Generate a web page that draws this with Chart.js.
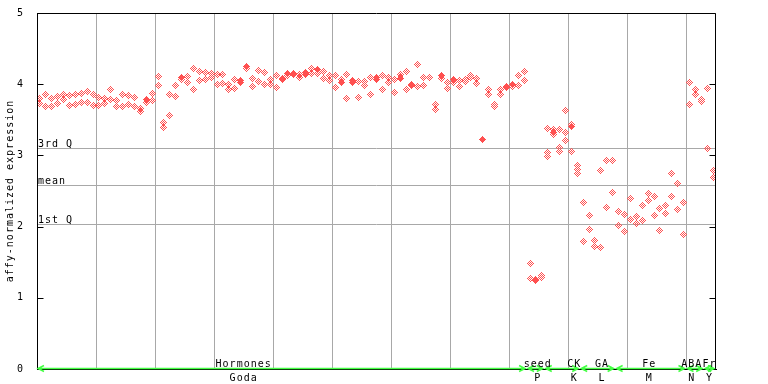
<!DOCTYPE html>
<html><head><meta charset="utf-8">
<script src="https://cdn.jsdelivr.net/npm/chart.js@4/dist/chart.umd.min.js"></script>
<style>html,body{margin:0;padding:0;background:#fff}#wrap{width:768px;height:384px}</style>
</head><body><div id="wrap"><canvas id="c" width="768" height="384"></canvas></div>
<script>
// ---- data ----
const rep1 = [3.80,3.86,3.80,3.83,3.86,3.84,3.86,3.87,3.90,3.86,
3.81,3.80,3.93,3.77,3.86,3.84,3.81,3.66,3.78,3.87,
4.11,3.46,3.86,3.98,4.10,4.11,4.22,4.18,4.17,4.15,
4.13,4.14,4.00,4.07,4.05,4.25,4.08,4.19,4.16,4.07,
4.12,4.08,4.15,4.15,4.13,4.16,4.22,4.20,4.18,4.12,
4.12,4.07,4.14,4.05,4.04,4.04,4.10,4.09,4.12,4.10,
4.07,4.13,4.18,4.00,4.27,4.10,4.10,3.72,4.12,4.03,
4.06,4.05,4.07,4.12,4.08,3.23,3.93,3.72,3.93,3.97,
3.99,4.12,4.18,1.48,1.26,1.31,3.38,3.37,3.37,3.63,
3.44,2.86,2.34,2.16,1.81,2.79,2.93,2.93,2.21,2.17,
2.40,2.14,2.30,2.47,2.42,2.26,2.30,2.75,2.61,2.34,
4.03,3.93,3.79,3.94,2.79];
const rep2 = [3.73,3.69,3.69,3.73,3.79,3.70,3.72,3.75,3.75,3.70,
3.70,3.73,3.79,3.68,3.68,3.72,3.69,3.61,3.75,3.77,
3.98,3.39,3.56,3.83,4.06,4.02,3.93,4.05,4.07,4.10,
4.00,4.01,3.92,3.94,4.03,4.22,3.97,4.04,4.00,3.99,
3.96,4.06,4.12,4.13,4.10,4.14,4.15,4.15,4.08,4.05,
3.96,4.03,3.80,4.03,3.82,3.98,3.86,4.07,3.93,4.02,
3.88,4.08,3.93,3.98,3.97,3.98,4.10,3.65,4.08,3.94,
4.03,3.97,4.04,4.10,4.01,3.22,3.86,3.69,3.86,3.95,
3.97,3.98,4.05,1.27,1.24,1.29,3.04,3.32,3.11,3.32,
3.41,2.80,1.79,1.96,1.72,1.71,2.27,2.48,2.02,1.93,
2.10,2.04,2.09,2.36,2.16,1.95,2.18,2.42,2.24,1.89,
3.72,3.86,3.76,3.09,2.69];
const rep3Index = [86,87,88,89,90,91];
const rep3 = [2.98,3.29,3.06,3.21,3.06,2.75];
const solidIndex = [18,24,34,35,42,45,47,51,53,57,61,63,68,70,75,80,87,90];
const solidValues = [3.77,4.09,4.04,4.25,4.15,4.15,4.20,4.03,4.04,4.08,4.10,3.99,4.12,4.05,3.23,3.99,3.32,3.41];

const quartileNames = ['3rd Q','mean','1st Q'];
const quartileValues = [3.10, 2.58, 2.04];

const groupTop = ['Hormones','seed','CK','GA','Fe','ABA','Fr'];
const groupBottom = ['Goda','P','K','L','M','N','Y'];
const groupStart = [0, 83, 86, 92, 98, 110, 113];
const groupEnd = [83, 86, 92, 98, 110, 113, 115];
const groupLabelAt = [35.0, 84.8, 91.0, 95.7, 103.7, 110.9, 113.9];

const yTitle = 'affy-normalized expression';
const sampleCount = rep1.length;

// ---- styles ----
const RED = '#ff5050';
const GREEN = '#44ff44';
const GRID = '#a8a8a8';
const FONT = {family: "'DejaVu Sans Mono', monospace", size: 10};

// pixel-pattern diamond markers
function makeMarker(filled) {
  const c = document.createElement('canvas');
  c.width = 7; c.height = 7;
  const g = c.getContext('2d');
  g.fillStyle = RED;
  for (let dy = -3; dy <= 3; dy++) {
    for (let dx = -3; dx <= 3; dx++) {
      const d = Math.abs(dx) + Math.abs(dy);
      let on;
      if (filled) on = (Math.abs(dx) <= 2 && Math.abs(dx) * 1 + Math.abs(dy) <= 3) && !(Math.abs(dx) === 2 && Math.abs(dy) === 1 && false);
      else on = (d === 1 || d === 3);
      if (filled) on = (Math.abs(dy) <= 3 && Math.abs(dx) <= 2 && (Math.abs(dx) + Math.abs(dy) <= 3));
      if (on) g.fillRect(dx + 3, dy + 3, 1, 1);
    }
  }
  return c;
}
const hollowMarker = makeMarker(false);
const solidMarker = makeMarker(true);

function pts(vals, idx) {
  return vals.map((v, i) => ({x: (idx ? idx[i] : i) + 0.5, y: v})).filter(p => p.y !== null);
}

const spacing = {
  id: 'spacing',
  beforeDraw(chart) {
    chart.ctx.letterSpacing = '1px';
    chart.ctx.imageSmoothingEnabled = false;
  }
};

const quartiles = {
  id: 'quartiles',
  beforeDatasetsDraw(chart) {
    const {ctx, chartArea: a, scales: {y}} = chart;
    ctx.save();
    ctx.strokeStyle = GRID; ctx.lineWidth = 1;
    ctx.fillStyle = '#000';
    ctx.font = "10px 'DejaVu Sans Mono', monospace";
    ctx.textAlign = 'left'; ctx.textBaseline = 'alphabetic';
    quartileValues.forEach((q, i) => {
      const py = Math.round(y.getPixelForValue(q)) + 0.5;
      ctx.beginPath(); ctx.moveTo(a.left, py); ctx.lineTo(a.right, py); ctx.stroke();
      ctx.fillText(quartileNames[i], a.left + 1, py - 2);
    });
    ctx.restore();
  }
};

const frame = {
  id: 'frame',
  afterDraw(chart) {
    const {ctx, chartArea: a, scales: {x, y}} = chart;
    ctx.save();
    ctx.strokeStyle = '#000'; ctx.lineWidth = 1;
    const L = Math.round(a.left) + 0.5, R = Math.round(a.right) - 0.5;
    const T = Math.round(a.top) + 0.5, B = Math.round(a.bottom) + 0.5;
    ctx.beginPath();
    ctx.moveTo(L, T); ctx.lineTo(R, T); ctx.lineTo(R, B);
    ctx.moveTo(L, T); ctx.lineTo(L, B);
    y.ticks.forEach(t => {
      const py = Math.round(y.getPixelForValue(t.value)) + 0.5;
      ctx.moveTo(L, py); ctx.lineTo(L + 6, py);
      ctx.moveTo(R, py); ctx.lineTo(R - 6, py);
    });
    ctx.stroke();

    // group annotations
    const gy = Math.round(a.bottom) - 0.5;
    ctx.strokeStyle = GREEN; ctx.lineWidth = 1.5;
    groupTop.forEach((name, g) => {
      const x1 = x.getPixelForValue(groupStart[g]) + 1;
      const x2 = x.getPixelForValue(groupEnd[g]) - 2;
      ctx.beginPath();
      ctx.moveTo(x1, gy); ctx.lineTo(x2, gy);
      ctx.moveTo(x1 + 6, gy - 3); ctx.lineTo(x1, gy); ctx.lineTo(x1 + 6, gy + 3);
      ctx.moveTo(x2 - 6, gy - 3); ctx.lineTo(x2, gy); ctx.lineTo(x2 - 6, gy + 3);
      ctx.stroke();
    });
    ctx.fillStyle = '#000';
    ctx.font = "10px 'DejaVu Sans Mono', monospace";
    ctx.textAlign = 'center'; ctx.textBaseline = 'alphabetic';
    groupTop.forEach((name, g) => {
      const px = x.getPixelForValue(groupLabelAt[g]);
      ctx.fillText(name, px, gy - 2);
      ctx.fillText(groupBottom[g], px, gy + 12);
    });
    ctx.restore();
  }
};

const pointBase = {pointRadius: 3.5, pointHoverRadius: 3.5, showLine: false};

new Chart(document.getElementById('c'), {
  type: 'scatter',
  data: {
    datasets: [
      Object.assign({label: 'overlap', data: pts(solidValues, solidIndex),
        pointStyle: solidMarker}, pointBase),
      Object.assign({label: 'rep1', data: pts(rep1), pointStyle: hollowMarker}, pointBase),
      Object.assign({label: 'rep2', data: pts(rep2), pointStyle: hollowMarker}, pointBase),
      Object.assign({label: 'rep3', data: pts(rep3, rep3Index), pointStyle: hollowMarker}, pointBase)
    ]
  },
  options: {
    responsive: false,
    devicePixelRatio: 1,
    animation: false,
    layout: {padding: {top: 13, right: 52, left: 0, bottom: 0}},
    plugins: {legend: {display: false}, tooltip: {enabled: false}},
    scales: {
      x: {
        type: 'linear', min: 0, max: sampleCount, position: 'bottom',
        grid: {color: GRID, lineWidth: 1, drawTicks: false},
        border: {display: true, color: '#000'},
        ticks: {display: false, stepSize: 10, includeBounds: false},
        afterFit: s => { s.height = 15; }
      },
      y: {
        min: 0, max: 5,
        grid: {display: false},
        border: {display: true, color: '#000'},
        ticks: {stepSize: 1, color: '#000', font: FONT, padding: 5},
        title: {display: true, text: yTitle, color: '#000', font: FONT, padding: {top: 4, bottom: 0}},
        afterFit: s => { s.width = 37; }
      }
    }
  },
  plugins: [spacing, quartiles, frame]
});
</script>
</body></html>
